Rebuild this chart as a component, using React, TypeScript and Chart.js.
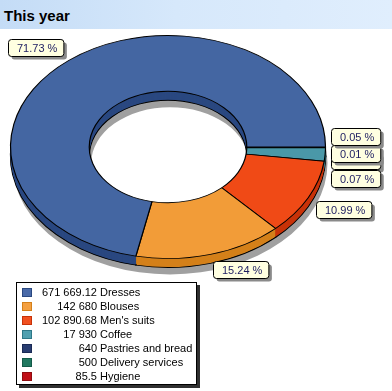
import React, { useEffect, useRef } from 'react';
import { Chart, registerables } from 'chart.js';

Chart.register(...registerables);

// ---- data ----
const categories = ['Dresses', 'Blouses', "Men's suits", 'Coffee', 'Pastries and bread', 'Delivery services', 'Hygiene'];
const values = [671669.12, 142680, 102890.68, 17930, 640, 500, 85.5];

// ---- styles ----
const topColors = ['#4466a2', '#f29c38', '#f04a16', '#4a98a8', '#2a3e72', '#1f7a62', '#c01418'];
const sideColors = ['#2a4880', '#d4801a', '#c83208', '#2e7888', '#1a2a55', '#135a48', '#900c10'];
const legendColors = ['#4a6aa8', '#f4a040', '#f05020', '#50a0b0', '#283c70', '#207860', '#c01018'];

const SY = 0.708;
const DEPTH = 9;
const SHADOW = 16;
const RADIUS = 157.5;
// stacked placement of the crowded small labels on the right
const clusterOffsets: Record<string, number> = {
  'Delivery services': -19,
  Hygiene: -2,
  Coffee: 5,
  'Pastries and bread': 23,
};

const total = values.reduce((a, b) => a + b, 0);

function fmtValue(v: number) {
  const s = String(v);
  const [i, d] = s.split('.');
  const g = i.replace(/\B(?=(\d{3})+(?!\d))/g, ' ');
  return d ? g + '.' + d : g;
}

// chart draws clockwise; the reference runs counter-clockwise, so reverse
const chartLabels = categories.slice().reverse();
const chartValues = values.slice().reverse();
const chartTop = topColors.slice().reverse();
const chartSide = sideColors.slice().reverse();

function ellipse(ctx: CanvasRenderingContext2D, cx: number, cy: number) {
  ctx.translate(cx, cy);
  ctx.scale(1, SY);
  ctx.translate(-cx, -cy);
}

function ringPath(ctx: CanvasRenderingContext2D, a: any) {
  ctx.beginPath();
  ctx.arc(a.x, a.y, a.outerRadius, a.startAngle, a.endAngle);
  ctx.arc(a.x, a.y, a.innerRadius, a.endAngle, a.startAngle, true);
  ctx.closePath();
}

function roundRect(ctx: CanvasRenderingContext2D, x: number, y: number, w: number, h: number, r: number) {
  ctx.beginPath();
  ctx.moveTo(x + r, y);
  ctx.lineTo(x + w - r, y);
  ctx.quadraticCurveTo(x + w, y, x + w, y + r);
  ctx.lineTo(x + w, y + h - r);
  ctx.quadraticCurveTo(x + w, y + h, x + w - r, y + h);
  ctx.lineTo(x + r, y + h);
  ctx.quadraticCurveTo(x, y + h, x, y + h - r);
  ctx.lineTo(x, y + r);
  ctx.quadraticCurveTo(x, y, x + r, y);
  ctx.closePath();
}

const pie3d = {
  id: 'pie3d',
  beforeDatasetsDraw(chart: any) {
    const ctx: CanvasRenderingContext2D = chart.ctx;
    const arcs = chart.getDatasetMeta(0).data as any[];
    if (!arcs.length) return;
    const cx = arcs[0].x;
    const cy = arcs[0].y;
    const outer = arcs[0].outerRadius;
    const inner = arcs[0].innerRadius;
    // drop shadow
    ctx.save();
    ctx.translate(2, SHADOW);
    ellipse(ctx, cx, cy);
    ctx.fillStyle = '#a0a0a0';
    ctx.beginPath();
    ctx.arc(cx, cy, outer, 0, Math.PI * 2);
    ctx.arc(cx, cy, inner, Math.PI * 2, 0, true);
    ctx.closePath();
    ctx.fill();
    ctx.restore();
    // sides
    for (let d = DEPTH; d >= 1; d--) {
      ctx.save();
      ctx.translate(0, d);
      ellipse(ctx, cx, cy);
      arcs.forEach((a, i) => {
        ringPath(ctx, a);
        ctx.fillStyle = chartSide[i];
        ctx.fill();
        if (d === DEPTH) {
          ctx.lineWidth = 1.3;
          ctx.strokeStyle = '#000';
          ctx.stroke();
        }
      });
      ctx.restore();
    }
    ctx.save();
    ellipse(ctx, cx, cy);
  },
  afterDatasetsDraw(chart: any) {
    const ctx: CanvasRenderingContext2D = chart.ctx;
    const arcs = chart.getDatasetMeta(0).data as any[];
    if (!arcs.length) return;
    ctx.restore();
    const cx = arcs[0].x;
    const cy = arcs[0].y;
    const R = arcs[0].outerRadius;
    ctx.font = '11px "Liberation Sans", Arial, sans-serif';
    ctx.textBaseline = 'middle';
    const boxes: any[] = [];
    arcs.forEach((a, i) => {
      const name = chartLabels[i];
      const pct = (chartValues[i] / total) * 100;
      const text = pct.toFixed(2) + ' %';
      const mid = (a.startAngle + a.endAngle) / 2;
      const c = Math.cos(mid);
      const s = Math.sin(mid);
      const ax = cx + (R + 9) * c;
      const ay = cy + (R + 9) * SY * s;
      const w = ctx.measureText(text).width + 15;
      const h = 17;
      let left = c >= 0 ? ax : ax - w;
      let top = s >= 0 ? ay : ay - h;
      let order = 1;
      if (name in clusterOffsets) {
        left = cx + R + 5;
        top = cy + clusterOffsets[name];
        order = name === 'Coffee' ? 0 : 1;
      }
      boxes.push({ text, left, top, w, h, order });
    });
    boxes.sort((p, q) => p.order - q.order);
    boxes.forEach((b) => {
      const x = Math.round(b.left) + 0.5;
      const y = Math.round(b.top) + 0.5;
      ctx.fillStyle = '#8a8a8a';
      roundRect(ctx, x + 3, y + 3, b.w, b.h, 3);
      ctx.fill();
      ctx.fillStyle = '#ffffe1';
      roundRect(ctx, x, y, b.w, b.h, 3);
      ctx.fill();
      ctx.strokeStyle = '#000';
      ctx.lineWidth = 1;
      ctx.stroke();
      ctx.fillStyle = '#1c1c60';
      ctx.textAlign = 'left';
      ctx.fillText(b.text, x + 8.5, y + b.h / 2 + 0.5);
    });
  },
};

export default function App() {
  const ref = useRef<HTMLCanvasElement>(null);
  useEffect(() => {
    if (!ref.current) return;
    const chart = new Chart(ref.current, {
      type: 'doughnut',
      data: {
        labels: chartLabels,
        datasets: [
          {
            data: chartValues,
            backgroundColor: chartTop,
            borderColor: '#000',
            borderWidth: 1.2,
            hoverOffset: 0,
            clip: false as any,
          } as any,
        ],
      },
      options: {
        responsive: false,
        animation: false,
        rotation: 90,
        radius: RADIUS,
        cutout: '50%',
        layout: { padding: { left: 0, top: 0, right: 56, bottom: 97 } },
        events: [],
        plugins: {
          legend: { display: false },
          title: { display: false },
          tooltip: { enabled: false },
        },
      } as any,
      plugins: [pie3d],
    });
    return () => chart.destroy();
  }, []);

  return (
    <div style={{ position: 'absolute', left: 0, top: 0, width: 392, height: 391, background: '#fff', overflow: 'hidden' }}>
      <canvas ref={ref} width={392} height={391} style={{ position: 'absolute', left: 0, top: 0, width: 392, height: 391 }} />
      <div
        style={{
          position: 'absolute',
          left: 0,
          top: 0,
          width: 392,
          height: 29,
          background: 'linear-gradient(to right, #c4dcf6 0%, #d6e8fb 45%, #e0eefd 100%)',
          font: 'bold 15px "Liberation Sans", Arial, sans-serif',
          lineHeight: '29px',
          paddingLeft: 4,
          paddingTop: 1,
          boxSizing: 'border-box',
          color: '#000',
        }}
      >
        This year
      </div>
      <div
        style={{
          position: 'absolute',
          left: 16,
          top: 282,
          width: 179,
          height: 99,
          paddingTop: 2,
          boxSizing: 'content-box',
          border: '1px solid #000',
          boxShadow: '3px 3px 0 #303030',
          background: '#fff',
          font: '11px "Liberation Sans", Arial, sans-serif',
          color: '#000',
        }}
      >
        {categories.map((c, i) => (
          <div key={c} style={{ display: 'flex', alignItems: 'center', height: 14, whiteSpace: 'nowrap' }}>
            <div
              style={{
                marginLeft: 5,
                width: 8,
                height: 7,
                background: legendColors[i],
                border: '1px solid ' + sideColors[i],
                flex: 'none',
              }}
            />
            <span style={{ width: 65, textAlign: 'right', flex: 'none' }}>{fmtValue(values[i])}</span>
            <span style={{ marginLeft: 3 }}>{c}</span>
          </div>
        ))}
      </div>
    </div>
  );
}
